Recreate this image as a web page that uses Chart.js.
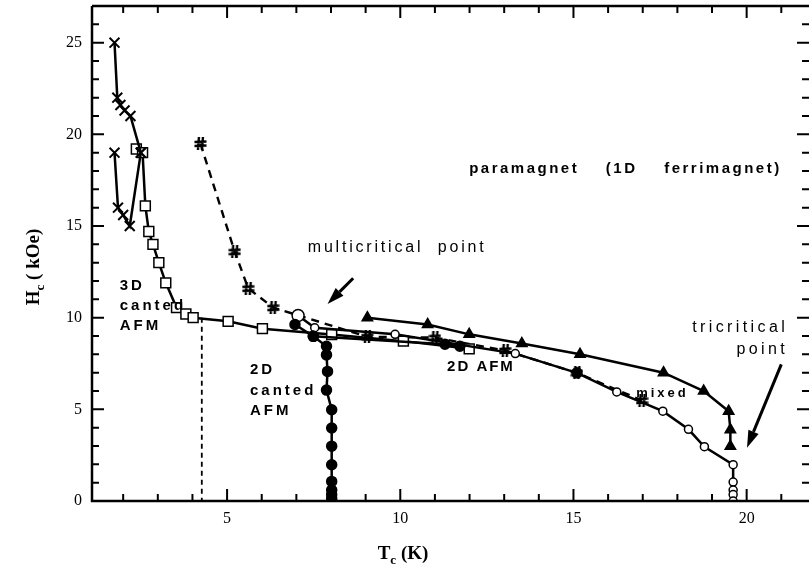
<!DOCTYPE html>
<html>
<head>
<meta charset="utf-8">
<script src="https://cdn.jsdelivr.net/npm/chart.js@4.4.1/dist/chart.umd.min.js"></script>
<style>
  html, body { margin: 0; padding: 0; background: #fff; overflow: hidden; }
  #wrap { width: 809px; height: 565px; }
  canvas { display: block; }
</style>
</head>
<body>
<div id="wrap"><canvas id="phase"></canvas></div>
<script>
// ---- phase boundary data: T_c (K) vs H_c (kOe) ----
const crossUpperT = [1.75, 1.83, 1.92, 2.04, 2.21, 2.51];
const crossUpperH = [25.0, 22.0, 21.6, 21.3, 21.0, 19.0];
const crossLowerT = [1.75, 1.85, 2.0, 2.19, 2.51];
const crossLowerH = [19.0, 16.0, 15.6, 15.0, 19.0];

const squareT = [2.38, 2.56, 2.64, 2.74, 2.86, 3.03, 3.23, 3.54, 3.81, 4.02, 5.03, 6.02, 8.02, 10.09, 11.99];
const squareH = [19.2, 19.0, 16.1, 14.7, 14.0, 13.0, 11.9, 10.55, 10.2, 10.0, 9.8, 9.4, 9.08, 8.72, 8.3];

const hashT = [4.23, 5.22, 5.61, 6.33, 9.05, 11.0, 13.03, 15.1, 16.98];
const hashH = [19.5, 13.6, 11.6, 10.55, 8.96, 8.91, 8.21, 6.99, 5.48];

const filledT = [6.96, 7.49, 7.87, 7.87, 7.9, 7.87, 8.02, 8.02, 8.02, 8.02, 8.02, 8.02, 8.02, 8.02, 8.02];
const filledH = [9.63, 8.98, 8.44, 7.97, 7.07, 6.05, 4.98, 3.98, 2.99, 1.98, 1.07, 0.6, 0.35, 0.15, 0];
const filledBranchT = [7.49, 11.29, 11.72];
const filledBranchH = [8.98, 8.55, 8.44];
const filledLoneT = [15.1];
const filledLoneH = [6.99];

const openT = [7.05, 7.53, 9.85, 13.32, 15.1, 16.25, 17.58, 18.32, 18.78, 19.61, 19.61, 19.61, 19.61, 19.61];
const openH = [10.12, 9.45, 9.09, 8.04, 6.99, 5.95, 4.9, 3.91, 2.96, 1.98, 1.03, 0.6, 0.35, 0];

const triT = [9.05, 10.79, 11.99, 13.51, 15.19, 17.6, 18.76, 19.48, 19.53, 19.53];
const triH = [10.0, 9.63, 9.09, 8.59, 8.0, 7.0, 6.0, 4.9, 3.89, 2.98];

const dropT = [4.27, 4.27];
const dropH = [10.0, 0];

const xTicks = [5, 10, 15, 20];
const yTicks = [0, 5, 10, 15, 20, 25];

// region names and arrows, placed in data units
const notes = [
  { text: 'paramagnet    (1D    ferrimagnet)', t: 16.5, h: 18.1, align: 'center', weight: 'bold', size: 15, ls: 2.5 },
  { text: 'multicritical  point', t: 7.33, h: 13.8, align: 'left', weight: 'normal', size: 16, ls: 2.8 },
  { text: 'tricritical', t: 21.2, h: 9.45, align: 'right', weight: 'normal', size: 16, ls: 3.4 },
  { text: 'point', t: 21.2, h: 8.25, align: 'right', weight: 'normal', size: 16, ls: 3.4 },
  { text: '3D', t: 1.9, h: 11.76, align: 'left', weight: 'bold', size: 15, ls: 3 },
  { text: 'canted', t: 1.9, h: 10.62, align: 'left', weight: 'bold', size: 15, ls: 3 },
  { text: 'AFM', t: 1.9, h: 9.58, align: 'left', weight: 'bold', size: 15, ls: 3 },
  { text: '2D', t: 5.66, h: 7.18, align: 'left', weight: 'bold', size: 15, ls: 3 },
  { text: 'canted', t: 5.66, h: 6.03, align: 'left', weight: 'bold', size: 15, ls: 3 },
  { text: 'AFM', t: 5.66, h: 4.89, align: 'left', weight: 'bold', size: 15, ls: 3 },
  { text: '2D AFM', t: 11.35, h: 7.3, align: 'left', weight: 'bold', size: 15, ls: 2 },
  { text: 'mixed', t: 16.81, h: 5.85, align: 'left', weight: 'bold', size: 13, ls: 3 }
];
const arrows = [
  { from: [8.64, 12.15], to: [7.9, 10.75] },
  { from: [21.0, 7.45], to: [20.01, 2.91] }
];

// '#' marker used by the dashed series
function hashMark() {
  const c = document.createElement('canvas');
  c.width = 13; c.height = 13;
  const g = c.getContext('2d');
  g.strokeStyle = '#000';
  g.lineWidth = 2.4;
  g.beginPath();
  g.moveTo(5, 0); g.lineTo(4, 13);
  g.moveTo(9, 0); g.lineTo(8, 13);
  g.moveTo(0.5, 5); g.lineTo(12.5, 4.5);
  g.moveTo(0.5, 9); g.lineTo(12.5, 8.5);
  g.stroke();
  return c;
}

function pts(t, h) {
  return t.map((x, i) => ({ x: x, y: h[i] }));
}

function series(t, h, extra) {
  return Object.assign({
    data: pts(t, h),
    showLine: true,
    borderColor: '#000',
    borderWidth: 2.5,
    pointBorderColor: '#000',
    pointBackgroundColor: '#000',
    pointBorderWidth: 1.5,
    tension: 0
  }, extra);
}

const datasets = [
  series(crossUpperT, crossUpperH, { pointStyle: 'crossRot', pointRadius: 7, pointBorderWidth: 2 }),
  series(crossLowerT, crossLowerH, { pointStyle: 'crossRot', pointRadius: 7, pointBorderWidth: 2 }),
  series(filledT, filledH, { pointStyle: 'circle', pointRadius: 5 }),
  series(filledBranchT, filledBranchH, { pointStyle: 'circle', pointRadius: 5 }),
  series(filledLoneT, filledLoneH, { pointStyle: 'circle', pointRadius: 5, showLine: false }),
  series(openT, openH, {
    pointStyle: 'circle',
    pointRadius: openT.map((_, i) => (i === 0 ? 6 : 4)),
    pointBackgroundColor: '#fff'
  }),
  series(triT, triH, { pointStyle: 'triangle', pointRadius: 6 }),
  series(squareT, squareH, { pointStyle: 'rect', pointRadius: 7, pointBackgroundColor: '#fff' }),
  series(hashT, hashH, { pointStyle: hashMark(), borderWidth: 2.4, borderDash: [8, 6] }),
  series(dropT, dropH, { pointRadius: 0, borderWidth: 1.8, borderDash: [5, 4] })
];

const frame = {
  id: 'frame',
  afterDatasetsDraw(chart) {
    const { ctx, chartArea: a, scales: { x, y } } = chart;
    ctx.save();
    ctx.strokeStyle = '#000';
    ctx.fillStyle = '#000';

    // box: left, bottom, top
    ctx.lineWidth = 2.5;
    ctx.beginPath();
    ctx.moveTo(a.left, a.top); ctx.lineTo(a.left, a.bottom); ctx.lineTo(a.right, a.bottom);
    ctx.moveTo(a.left, a.top); ctx.lineTo(a.right, a.top);
    ctx.stroke();

    // inward ticks on all sides, every 1 unit, longer every 5
    ctx.lineWidth = 2;
    ctx.beginPath();
    for (let v = Math.ceil(x.min); v <= x.max; v++) {
      const px = x.getPixelForValue(v);
      const len = v % 5 === 0 ? 12 : 7;
      ctx.moveTo(px, a.bottom); ctx.lineTo(px, a.bottom - len);
      ctx.moveTo(px, a.top); ctx.lineTo(px, a.top + len);
    }
    for (let v = Math.ceil(y.min); v <= y.max; v++) {
      const py = y.getPixelForValue(v);
      const len = v % 5 === 0 ? 12 : 7;
      ctx.moveTo(a.left, py); ctx.lineTo(a.left + len, py);
      ctx.moveTo(a.right, py); ctx.lineTo(a.right - len, py);
    }
    ctx.stroke();

    // region labels
    ctx.textBaseline = 'middle';
    notes.forEach(n => {
      ctx.font = n.weight + ' ' + n.size + 'px "Liberation Sans", Arial, sans-serif';
      ctx.letterSpacing = n.ls + 'px';
      ctx.textAlign = n.align;
      ctx.fillText(n.text, x.getPixelForValue(n.t), y.getPixelForValue(n.h));
    });
    ctx.letterSpacing = '0px';

    // arrows
    arrows.forEach(ar => {
      const x0 = x.getPixelForValue(ar.from[0]), y0 = y.getPixelForValue(ar.from[1]);
      const x1 = x.getPixelForValue(ar.to[0]), y1 = y.getPixelForValue(ar.to[1]);
      const ang = Math.atan2(y1 - y0, x1 - x0);
      const head = 17, half = 5.5;
      const bx = x1 - head * Math.cos(ang), by = y1 - head * Math.sin(ang);
      ctx.lineWidth = 3;
      ctx.beginPath();
      ctx.moveTo(x0, y0); ctx.lineTo(bx, by);
      ctx.stroke();
      ctx.beginPath();
      ctx.moveTo(x1, y1);
      ctx.lineTo(bx + half * Math.sin(ang), by - half * Math.cos(ang));
      ctx.lineTo(bx - half * Math.sin(ang), by + half * Math.cos(ang));
      ctx.closePath();
      ctx.fill();
    });

    // axis titles with subscripts
    const big = 'bold 19px "Liberation Serif", "Times New Roman", serif';
    const sub = 'bold 13px "Liberation Serif", "Times New Roman", serif';
    function subTitle(main, s, rest) {
      ctx.font = big; const w1 = ctx.measureText(main).width;
      const w3 = ctx.measureText(rest).width;
      ctx.font = sub; const w2 = ctx.measureText(s).width;
      const total = w1 + w2 + w3;
      let cx = -total / 2;
      ctx.textAlign = 'left';
      ctx.textBaseline = 'alphabetic';
      ctx.font = big; ctx.fillText(main, cx, 0); cx += w1;
      ctx.font = sub; ctx.fillText(s, cx, 5); cx += w2;
      ctx.font = big; ctx.fillText(rest, cx, 0);
    }
    ctx.save();
    ctx.translate(403, 559);
    subTitle('T', 'c', ' (K)');
    ctx.restore();
    ctx.save();
    ctx.translate(39, 267);
    ctx.rotate(-Math.PI / 2);
    subTitle('H', 'c', ' ( kOe)');
    ctx.restore();

    ctx.restore();
  }
};

const tickFont = { family: '"Liberation Serif", "Times New Roman", serif', size: 16 };

// drop the label overhang padding Chart.js reserves at the scale ends
function noOverhang(s) {
  s.paddingTop = 0; s.paddingBottom = 0; s.paddingLeft = 0; s.paddingRight = 0;
}

new Chart(document.getElementById('phase'), {
  type: 'scatter',
  data: { datasets: datasets },
  options: {
    responsive: true,
    maintainAspectRatio: false,
    animation: false,
    layout: { autoPadding: false, padding: { top: 6, right: 0, left: 0, bottom: 0 } },
    plugins: { legend: { display: false }, tooltip: { enabled: false } },
    scales: {
      x: {
        type: 'linear',
        min: 1.1,
        max: 21.8,
        grid: { display: false, drawTicks: false },
        border: { display: false },
        ticks: { font: tickFont, color: '#000', padding: 8, maxRotation: 0, autoSkip: false },
        afterBuildTicks(s) { s.ticks = xTicks.map(v => ({ value: v })); },
        afterFit(s) { s.height = 64; noOverhang(s); }
      },
      y: {
        type: 'linear',
        min: 0,
        max: 27,
        grid: { display: false, drawTicks: false },
        border: { display: false },
        ticks: { font: tickFont, color: '#000', padding: 10, autoSkip: false },
        afterBuildTicks(s) { s.ticks = yTicks.map(v => ({ value: v })); },
        afterFit(s) { s.width = 92; noOverhang(s); }
      }
    }
  },
  plugins: [frame]
});
</script>
</body>
</html>
